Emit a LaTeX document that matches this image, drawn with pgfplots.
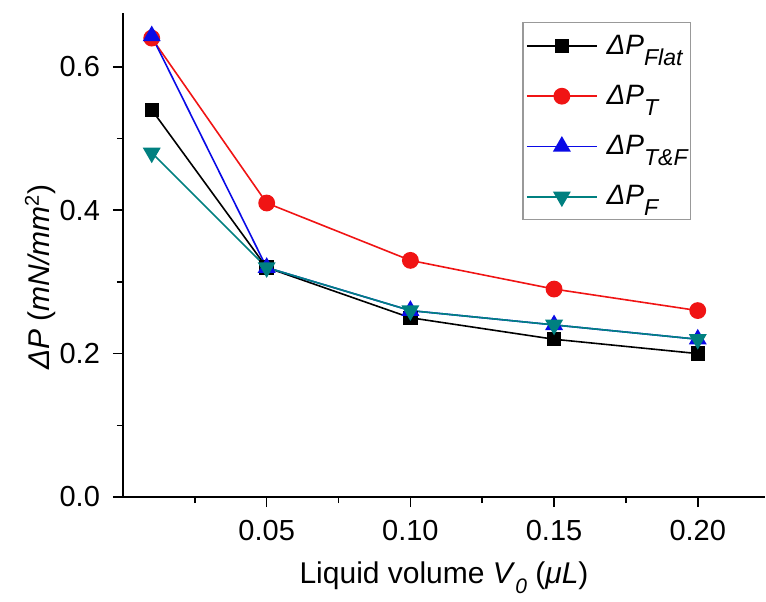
\documentclass[border=0pt]{standalone}
\usepackage{fontspec}
\setmainfont{Liberation Sans}
\usepackage{pgfplots}
\pgfplotsset{compat=1.18}
\definecolor{myteal}{RGB}{0,128,128}
\definecolor{myred}{RGB}{240,20,20}
\definecolor{myblue}{RGB}{10,10,230}
\newcommand{\sub}[1]{\raisebox{-0.6ex}{\fontsize{10.5}{12}\selectfont\itshape #1}}
\newcommand{\lsub}[1]{\raisebox{-5.5pt}{\fontsize{11.5}{12}\selectfont\itshape #1}}
\begin{document}
\begin{tikzpicture}
\begin{axis}[
 scale only axis, width=321pt, height=242pt,
 xmin=0, xmax=0.2234, ymin=0, ymax=0.675,
 axis lines=left, axis line style={-, line width=1pt},
 tick align=outside, major tick length=5pt, minor tick length=3pt,
 tick style={line width=0.8pt, black},
 xtick={0.05,0.10,0.15,0.20}, xticklabels={0.05,0.10,0.15,0.20},
 minor xtick={0.025,0.075,0.125,0.175},
 ytick={0,0.2,0.4,0.6}, yticklabels={0.0,0.2,0.4,0.6},
 minor ytick={0.1,0.3,0.5},
 ticklabel style={font=\fontsize{14.5}{16}\selectfont},
 xticklabel style={yshift=-3pt},
 yticklabel style={xshift=-3pt},
 xlabel={Liquid volume \textit{V}\sub{0} (\textit{μL})},
 ylabel={\textit{ΔP} (\textit{mN/mm}\textsuperscript{\fontsize{10}{12}\selectfont 2})},
 label style={font=\fontsize{15}{18}\selectfont},
 xlabel style={at={(rel axis cs:0.5,-0.167)}, anchor=center},
 ylabel style={at={(rel axis cs:-0.129,0.4545)}, anchor=center},
 legend style={at={(rel axis cs:0.885,0.981)}, anchor=north east, draw=gray!80, line width=0.6pt,
   font=\fontsize{14}{16}\selectfont, row sep=10pt, inner xsep=1.5pt, inner ysep=4pt,
   nodes={inner xsep=0pt}},
 legend cell align=left,
 legend image code/.code={\draw[mark repeat=2,mark phase=2,#1] plot coordinates {(0pt,0pt) (17.5pt,0pt) (35pt,0pt)};},
 clip=false,
]
\addplot[black, line width=0.8pt, mark=square*, mark size=3.2pt, mark options={solid}]
 coordinates {(0.01,0.54)(0.05,0.32)(0.10,0.25)(0.15,0.22)(0.20,0.20)};
\addlegendentry{\hspace{4.5pt}\textit{ΔP}\lsub{Flat}}
\addplot[myred, line width=0.8pt, mark=*, mark size=3.8pt]
 coordinates {(0.01,0.64)(0.05,0.41)(0.10,0.33)(0.15,0.29)(0.20,0.26)};
\addlegendentry{\hspace{4.5pt}\textit{ΔP}\lsub{T}}
\addplot[myblue, line width=0.8pt, mark=triangle*, mark size=4.4pt]
 coordinates {(0.01,0.643)(0.05,0.32)(0.10,0.26)(0.15,0.24)(0.20,0.22)};
\addlegendentry{\hspace{4.5pt}\textit{ΔP}\lsub{T\&F}}
\addplot[myteal, line width=0.8pt, mark=triangle*, mark size=4.4pt, mark options={rotate=180}]
 coordinates {(0.01,0.48)(0.05,0.32)(0.10,0.26)(0.15,0.24)(0.20,0.22)};
\addlegendentry{\hspace{4.5pt}\textit{ΔP}\lsub{F}}
\end{axis}
\pgfresetboundingbox
\path (-61.5pt,-52pt) rectangle (321.5pt,248.5pt);
\end{tikzpicture}
\end{document}
